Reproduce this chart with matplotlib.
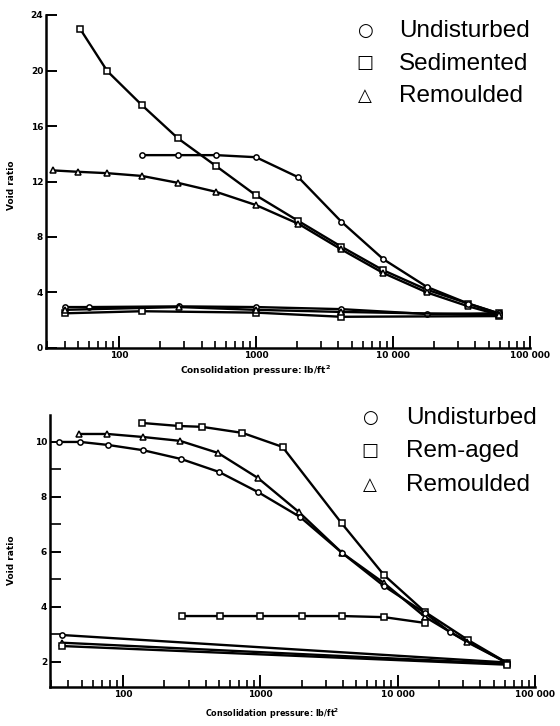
import numpy as np
import matplotlib
matplotlib.use("Agg")
import matplotlib.pyplot as plt
from matplotlib.ticker import LogLocator, FixedLocator, NullFormatter

# Top panel data (pressure lb/ft2, void ratio)
##############################################
top_sed_p = [52, 82, 147, 270, 513, 1000, 2040, 4200, 8500, 17700, 35500, 59000]
top_sed_e = [23.0, 19.96, 17.5, 15.1, 13.1, 11.0, 9.15, 7.3, 5.6, 4.2, 3.2, 2.5]
top_rem_p = [33, 50, 82, 147, 270, 513, 1000, 2040, 4200, 8500, 17700, 35500, 59000]
top_rem_e = [12.8, 12.7, 12.6, 12.4, 11.9, 11.25, 10.3, 8.95, 7.1, 5.4, 4.0, 3.0, 2.4]
top_und_p = [147, 270, 513, 1000, 2040, 4200, 8500, 17700, 35500, 59000]
top_und_e = [13.9, 13.9, 13.9, 13.75, 12.3, 9.1, 6.4, 4.4, 3.2, 2.5]
top_und_low_p = [40, 60, 275, 1000, 4200, 17700, 59000]
top_und_low_e = [2.95, 2.95, 3.0, 2.95, 2.8, 2.45, 2.5]
top_sed_low_p = [40, 147, 1000, 4200, 59000]
top_sed_low_e = [2.5, 2.65, 2.55, 2.25, 2.3]
top_rem_low_p = [40, 275, 1000, 4200, 59000]
top_rem_low_e = [2.75, 2.95, 2.75, 2.6, 2.4]

# Bottom panel data
###################
bot_age_p = [138, 256, 376, 740, 1450, 3900, 7950, 15800, 32500, 63000]
bot_age_e = [10.69, 10.58, 10.55, 10.33, 9.82, 7.05, 5.16, 3.82, 2.8, 1.96]
bot_rem_p = [48, 77, 140, 260, 492, 960, 1910, 3950, 7950, 15800, 31800, 63000]
bot_rem_e = [10.29, 10.29, 10.18, 10.04, 9.6, 8.69, 7.45, 5.96, 4.87, 3.64, 2.73, 1.96]
bot_und_p = [34, 49, 78, 140, 265, 500, 960, 1950, 3950, 7950, 15800, 24000, 63000]
bot_und_e = [10.0, 10.0, 9.89, 9.7, 9.38, 8.91, 8.18, 7.27, 5.96, 4.76, 3.78, 3.09, 1.96]
bot_age_low_p = [269, 510, 1000, 2000, 3950, 7950, 15800]
bot_age_low_e = [3.67, 3.67, 3.67, 3.67, 3.67, 3.63, 3.42]
bot_und_low_p = [36, 63000]
bot_und_low_e = [2.98, 1.98]
bot_rem_low_p = [36, 63000]
bot_rem_low_e = [2.7, 1.93]
bot_age_low2_p = [36, 63000]
bot_age_low2_e = [2.58, 1.9]

x_ticks = [100, 1000, 10000, 100000]
x_labels = ["100", "1000", "10 000", "100 000"]
top_legend = ["Undisturbed", "Sedimented", "Remoulded"]
bot_legend = ["Undisturbed", "Rem-aged", "Remoulded"]
symbols = ["\u25cb", "\u25a1", "\u25b3"]

W, H = 560, 726
fig = plt.figure(figsize=(W / 100, H / 100), dpi=100)


def px_axes(x0, x1, y0, y1):
    return fig.add_axes([x0 / W, 1 - y1 / H, (x1 - x0) / W, (y1 - y0) / H])


def style(ax):
    ax.set_xscale("log")
    for s in ["top", "right"]:
        ax.spines[s].set_visible(False)
    for s in ["left", "bottom"]:
        ax.spines[s].set_linewidth(1.8)
    ax.xaxis.set_major_locator(FixedLocator(x_ticks))
    ax.set_xticklabels(x_labels)
    ax.xaxis.set_minor_locator(LogLocator(base=10, subs=np.arange(2, 10)))
    ax.xaxis.set_minor_formatter(NullFormatter())
    ax.tick_params(axis="x", which="major", direction="in", length=9, width=1.4, pad=2)
    ax.tick_params(axis="x", which="minor", direction="in", length=5, width=1.2)
    ax.tick_params(axis="y", which="major", direction="in", length=8, width=1.4, pad=2)
    ax.tick_params(axis="y", which="minor", direction="in", length=8, width=1.2)
    for lab in ax.get_xticklabels() + ax.get_yticklabels():
        lab.set_fontsize(6.5)
        lab.set_fontweight("bold")


def curve(ax, p, e, m):
    ax.plot(p, e, "-", color="black", lw=1.7, marker=m, ms=3.8, mfc="white",
            mec="black", mew=1.1, clip_on=False)


# top panel
ax1 = px_axes(46, 530, 15, 348)
curve(ax1, top_sed_p, top_sed_e, "s")
curve(ax1, top_rem_p, top_rem_e, "^")
curve(ax1, top_und_p, top_und_e, "o")
curve(ax1, top_und_low_p, top_und_low_e, "o")
curve(ax1, top_sed_low_p, top_sed_low_e, "s")
curve(ax1, top_rem_low_p, top_rem_low_e, "^")
ax1.set_xlim(29.3, 100000)
ax1.set_ylim(0, 24)
ax1.set_yticks([0, 4, 8, 12, 16, 20, 24])
style(ax1)

# bottom panel
ax2 = px_axes(50, 535, 415, 687)
curve(ax2, bot_age_p, bot_age_e, "s")
curve(ax2, bot_rem_p, bot_rem_e, "^")
curve(ax2, bot_und_p, bot_und_e, "o")
curve(ax2, bot_age_low_p, bot_age_low_e, "s")
curve(ax2, bot_und_low_p, bot_und_low_e, "o")
curve(ax2, bot_rem_low_p, bot_rem_low_e, "^")
curve(ax2, bot_age_low2_p, bot_age_low2_e, "s")
ax2.set_xlim(29.4, 100000)
ax2.set_ylim(1.09, 10.98)
ax2.set_yticks([2, 4, 6, 8, 10])
ax2.yaxis.set_minor_locator(FixedLocator([3, 5, 7, 9]))
style(ax2)

# axis titles
fig.text(255 / W, 1 - 371 / H, "Consolidation pressure: lb/ft$^{\\mathbf{2}}$", ha="center",
         va="center", fontsize=6.5, fontweight="bold")
fig.text(272 / W, 1 - 714 / H, "Consolidation pressure: lb/ft$^{\\mathbf{2}}$", ha="center",
         va="center", fontsize=5.8, fontweight="bold")
fig.text(12 / W, 1 - 185 / H, "Void ratio", rotation=90, ha="center", va="center",
         fontsize=6.5, fontweight="bold")
fig.text(12 / W, 1 - 560 / H, "Void ratio", rotation=90, ha="center", va="center",
         fontsize=6.5, fontweight="bold")

# legends as text
for i, (sym, lab) in enumerate(zip(symbols, top_legend)):
    y = 1 - (31 + 32.5 * i) / H
    fig.text(365 / W, y, sym, ha="center", va="center", fontsize=13, family="DejaVu Sans")
    fig.text(399 / W, y, lab, ha="left", va="center", fontsize=17.5, family="Liberation Sans")
for i, (sym, lab) in enumerate(zip(symbols, bot_legend)):
    y = 1 - (418 + 33.5 * i) / H
    fig.text(370 / W, y, sym, ha="center", va="center", fontsize=13, family="DejaVu Sans")
    fig.text(406 / W, y, lab, ha="left", va="center", fontsize=17.5, family="Liberation Sans")

fig.savefig("out.png", dpi=100)
